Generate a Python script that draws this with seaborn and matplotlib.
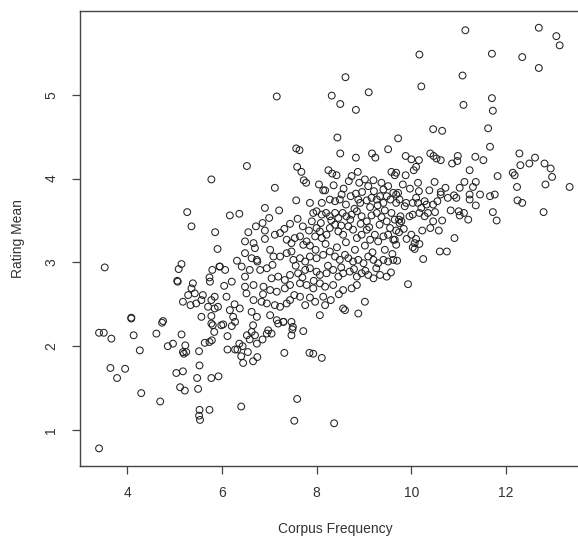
import numpy as np
import pandas as pd
import seaborn as sns
import matplotlib
matplotlib.use('Agg')
import matplotlib.pyplot as plt

# corpus frequency (x) and rating mean (y)
freq = [
    # upper part
    8.61, 7.16, 8.32, 8.50, 8.83, 9.10, 8.44, 7.57, 7.64, 8.50, 8.83, 9.17, 9.24, 9.51, 6.53, 7.59,
    11.14, 12.69, 13.06, 13.13, 10.17, 11.70, 12.34, 12.69, 11.08, 10.21, 11.70, 11.10, 11.72,
    10.46, 10.65, 11.62, 9.72, 11.66, 9.88, 10.00, 10.16, 10.40, 10.47, 10.53, 10.62, 10.98,
    10.97, 10.86, 11.35, 11.52, 12.28, 12.61, 12.49, 12.30, 12.81,
    # right side
    9.68, 9.88, 10.10, 10.05, 11.23, 11.82, 12.14, 12.18, 12.94, 12.97, 12.83, 13.34, 12.23,
    12.24, 12.34, 12.79, 11.72, 11.80, 11.66, 11.76, 11.45, 11.23, 11.23, 11.36, 11.12, 11.02,
    11.30, 11.36, 11.20, 11.00, 11.11, 11.02, 10.95, 10.90, 10.77, 10.72, 10.62, 10.62, 10.49,
    10.91, 10.60, 10.75, 10.25, 9.70, 9.93, 10.58, 10.23, 10.46, 10.65, 10.50, 10.46, 10.00,
    10.10, 10.17, 10.03, 10.07, 9.68, 9.68, 9.84, 9.75, 9.65, 9.74, 9.77, 9.68, 9.72, 9.75, 9.68,
    9.89, 9.86, 10.03, 10.14, 10.10, 10.16, 10.14, 10.28, 10.32, 10.21, 10.35, 10.28, 10.17,
    10.03, 9.96, 9.79, 10.07, 9.65,
    # left side
    5.78, 5.27, 5.36, 5.86, 5.91, 3.53, 5.15, 5.09, 5.06, 5.07, 5.80, 5.74, 5.75, 5.95, 5.39,
    5.36, 5.29, 5.43, 5.18, 5.34, 5.46, 5.57, 5.60, 5.85, 5.78, 5.71, 5.85, 5.92, 5.57, 5.78,
    4.09, 4.09, 4.76, 4.74,
    3.41, 3.51, 3.67, 4.14, 4.62, 4.27, 4.86, 4.97, 5.15, 5.23, 5.18, 5.25, 5.20, 5.52, 5.64,
    5.74, 5.79, 5.84, 5.81, 5.78, 5.99, 3.65, 3.96, 3.79, 5.04, 5.18, 5.53, 5.48, 5.78, 5.93,
    5.12, 5.22, 5.50, 4.30, 4.70, 5.53, 5.52, 5.54, 5.74, 3.41,
    # lower middle
    6.41, 7.59, 7.53, 8.37, 7.32, 7.85, 7.93, 8.11, 7.72, 7.49, 7.47, 7.50, 6.12, 6.12, 6.28,
    6.33, 6.41, 6.45, 6.55, 6.66, 6.75, 6.03, 6.21, 6.28, 6.66, 6.63, 6.53, 6.70, 6.59, 6.74,
    6.86, 6.95, 6.98, 7.05, 7.19, 7.30, 6.37, 6.44,
    # core
    7.68, 7.73, 7.78, 8.25, 8.33, 8.42, 8.74, 8.87, 8.90, 9.02, 9.09, 9.20, 9.37, 9.41, 9.51,
    9.58, 9.65, 7.12, 7.57, 7.86, 8.11, 8.14, 8.28, 8.39, 8.49, 8.53, 8.62, 8.72, 8.83, 8.88,
    8.92, 9.06, 9.16, 9.21, 9.27, 9.34, 9.41, 9.48, 9.56, 9.62, 6.17, 6.37, 6.91, 7.21, 7.00,
    6.72, 6.86, 6.91, 7.93, 8.00, 8.11, 8.20, 8.28, 8.39, 8.46, 8.55, 8.63, 8.74, 8.85, 8.95,
    9.06, 9.16, 9.27, 9.37, 9.48, 9.58, 7.90, 8.00, 8.07, 7.97, 8.11, 8.21, 8.28, 8.39, 8.46,
    8.56, 8.67, 8.77, 8.85, 8.95, 9.06, 9.13, 9.23, 9.30, 9.41, 9.51, 9.62, 7.12, 7.23, 7.37,
    7.47, 7.54, 7.65, 7.72, 7.79, 7.86, 6.49, 6.67, 6.70, 6.49, 6.63, 6.74, 7.02, 7.09, 7.23,
    7.37, 7.47, 7.51, 7.65, 7.76, 7.86, 8.00, 8.14, 8.28, 8.39, 8.49, 8.60, 8.67, 8.77, 8.88,
    8.99, 9.09, 9.20, 9.30, 9.41, 9.51, 9.62, 6.75, 5.96, 6.07, 6.42, 6.59, 6.81, 6.95, 7.05,
    7.19, 7.33, 7.44, 7.61, 7.76, 7.86, 8.00, 8.07, 8.21, 8.35, 8.46, 8.56, 8.70, 8.85, 8.95,
    9.09, 9.20, 9.34, 9.48, 6.49, 6.67, 6.49, 6.21, 6.52, 6.10, 6.88, 7.02, 7.16, 7.33, 7.44,
    7.65, 7.79, 7.93, 8.07, 8.18, 8.35, 8.56, 8.74, 8.85, 6.67, 6.84, 6.95, 7.12, 7.23, 7.37,
    7.44, 7.65, 7.76, 7.97, 8.14, 8.18, 8.56, 6.17, 6.38, 6.24, 6.63, 6.74, 7.02, 7.16, 7.30,
    7.47, 8.07, 8.60, 9.02, 8.88,
    # overlapping circles in the dense middle
    8.05, 8.18, 8.36, 8.57, 8.68, 8.80, 8.96, 9.13, 9.29, 9.44,
    8.09, 8.31, 8.52, 8.71, 8.93, 9.11, 9.33, 9.55, 9.74, 9.90,
    7.84, 7.98, 8.19, 8.43, 8.62, 8.81, 9.02, 9.18, 9.44, 9.60,
    7.32, 7.44, 7.60, 7.71, 7.56, 7.70, 7.94, 8.24, 8.52, 8.79,
    9.03, 9.26, 9.57, 7.07, 6.91, 6.56, 6.32, 6.05, 6.27, 6.87,
    7.53, 7.86, 8.30, 8.47, 9.82, 9.97, 10.38, 10.55, 10.83, 10.40,
]
rating = [
    5.21, 4.98, 4.99, 4.89, 4.82, 5.03, 4.49, 4.36, 4.34, 4.30, 4.25, 4.30, 4.25, 4.35, 4.15, 4.14,
    5.77, 5.80, 5.70, 5.59, 5.48, 5.49, 5.45, 5.32, 5.23, 5.10, 4.96, 4.88, 4.81,
    4.59, 4.57, 4.60, 4.48, 4.38, 4.27, 4.23, 4.22, 4.30, 4.27, 4.24, 4.22, 4.27,
    4.21, 4.18, 4.26, 4.22, 4.30, 4.25, 4.18, 4.16, 4.18,
    4.07, 4.04, 4.14, 4.10, 4.10, 4.03, 4.07, 4.04, 4.12, 4.02, 3.93, 3.90, 3.90,
    3.74, 3.71, 3.60, 3.60, 3.50, 3.79, 3.81, 3.81, 3.81, 3.75, 3.68, 3.96, 3.89,
    3.90, 3.96, 3.51, 3.61, 3.59, 3.56, 3.77, 3.80, 3.77, 3.89, 3.81, 3.84, 3.96,
    3.29, 3.13, 3.13, 3.04, 3.02, 2.74, 3.38, 3.38, 3.49, 3.50, 3.60, 3.69, 3.33,
    3.28, 3.22, 3.18, 3.16, 3.21, 3.38, 3.40, 3.47, 3.51, 3.51, 3.55, 3.81, 3.83, 3.75, 3.71,
    3.71, 3.67, 3.71, 3.71, 3.77, 3.85, 3.95, 3.73, 3.69, 3.65, 3.59, 3.55, 3.59,
    3.57, 3.55, 3.49, 3.23, 3.27,
    3.99, 3.60, 3.43, 3.36, 3.16, 2.94, 2.98, 2.92, 2.78, 2.77, 2.91, 2.82, 2.77, 2.95, 2.75,
    2.69, 2.61, 2.63, 2.53, 2.49, 2.51, 2.55, 2.61, 2.59, 2.55, 2.47, 2.45, 2.47, 2.35, 2.36,
    2.34, 2.33, 2.30, 2.28,
    2.16, 2.16, 2.09, 2.13, 2.15, 1.95, 2.00, 2.03, 2.14, 2.01, 1.93, 1.93, 1.91, 1.94, 2.04,
    2.05, 2.07, 2.17, 2.25, 2.27, 2.25, 1.74, 1.73, 1.62, 1.68, 1.70, 1.77, 1.62, 1.62, 1.64,
    1.51, 1.47, 1.49, 1.44, 1.34, 1.24, 1.17, 1.12, 1.24, 0.78,
    1.28, 1.37, 1.11, 1.08, 1.92, 1.92, 1.91, 1.86, 2.18, 2.20, 2.13, 2.23, 2.12, 1.96, 1.96,
    1.96, 1.88, 1.80, 1.93, 1.82, 1.87, 2.26, 2.24, 2.29, 2.25, 2.17, 2.13, 2.13, 2.08, 2.03,
    2.08, 2.15, 2.19, 2.15, 2.27, 2.29, 2.03, 2.00,
    4.08, 3.98, 3.95, 4.10, 4.06, 4.04, 4.03, 4.08, 3.95, 3.99, 3.91, 3.98, 3.95, 3.87, 3.91,
    4.08, 4.04, 3.89, 3.74, 3.71, 3.71, 3.86, 3.75, 3.73, 3.75, 3.81, 3.69, 3.79, 3.82, 3.75,
    3.71, 3.74, 3.77, 3.85, 3.75, 3.79, 3.71, 3.79, 3.75, 3.83, 3.56, 3.58, 3.65, 3.62, 3.53,
    3.43, 3.47, 3.38, 3.59, 3.61, 3.57, 3.59, 3.55, 3.59, 3.53, 3.59, 3.55, 3.57, 3.61, 3.55,
    3.49, 3.56, 3.59, 3.54, 3.49, 3.59, 3.49, 3.41, 3.37, 3.31, 3.29, 3.33, 3.41, 3.45, 3.37,
    3.33, 3.43, 3.39, 3.29, 3.33, 3.39, 3.27, 3.33, 3.25, 3.31, 3.33, 3.27, 3.33, 3.35, 3.27,
    3.23, 3.29, 3.31, 3.21, 3.25, 3.20, 3.25, 3.23, 3.17, 3.11, 3.05, 3.03, 3.15, 3.07, 3.07,
    3.11, 3.13, 3.03, 3.05, 3.01, 3.07, 3.05, 3.09, 3.13, 3.07, 3.03, 3.09, 3.05, 3.01, 3.03,
    2.99, 3.07, 3.03, 2.99, 3.03, 3.01, 3.03, 3.01, 2.95, 2.91, 2.95, 2.91, 2.91, 2.93, 2.81,
    2.83, 2.79, 2.85, 2.87, 2.91, 2.93, 2.89, 2.85, 2.87, 2.91, 2.83, 2.87, 2.89, 2.83, 2.87,
    2.85, 2.81, 2.85, 2.83, 2.83, 2.73, 2.71, 2.77, 2.63, 2.59, 2.71, 2.67, 2.65, 2.69, 2.73,
    2.75, 2.73, 2.69, 2.75, 2.71, 2.73, 2.67, 2.69, 2.73, 2.55, 2.53, 2.51, 2.49, 2.47, 2.51,
    2.55, 2.59, 2.49, 2.53, 2.59, 2.49, 2.45, 2.43, 2.45, 2.35, 2.41, 2.35, 2.37, 2.31, 2.29,
    2.29, 2.37, 2.43, 2.53, 2.39,
    3.93, 3.86, 3.92, 3.88, 3.97, 3.64, 3.84, 3.66, 3.68, 3.62,
    3.47, 3.50, 3.44, 3.51, 3.46, 3.42, 3.45, 3.41, 3.36, 3.28,
    3.38, 3.15, 3.22, 3.18, 3.24, 3.15, 3.20, 3.12, 3.15, 3.10,
    3.40, 3.46, 3.52, 3.43, 2.96, 2.82, 2.78, 2.96, 2.94, 2.92,
    2.90, 2.93, 2.88, 2.97, 3.28, 3.36, 3.02, 2.72, 2.50, 2.62,
    2.61, 2.58, 2.55, 2.62, 3.93, 3.88, 3.86, 3.73, 3.62, 3.41,
]

df = pd.DataFrame({'Corpus Frequency': freq, 'Rating Mean': rating})

sns.set_style('white')
plt.rcParams['font.family'] = ['Liberation Sans', 'DejaVu Sans']

fig = plt.figure(figsize=(5.78, 5.38), dpi=100)
# the plot region runs a bit past the right edge of the picture (cropped)
ax = fig.add_axes([80/578, 72/538, 510/578, 455/538])

sns.scatterplot(data=df, x='Corpus Frequency', y='Rating Mean', ax=ax,
                marker='o', s=24, facecolor='none', edgecolor='#222222',
                linewidth=0.75)

ax.set_xlim(3.008, 13.77)
ax.set_ylim(0.57, 6.0)
ax.set_xticks([4, 6, 8, 10, 12])
ax.set_yticks([1, 2, 3, 4, 5])

for s in ax.spines.values():
    s.set_visible(True)
    s.set_color('#444444')
    s.set_linewidth(1.0)

ax.tick_params(axis='both', direction='out', length=5.5, width=0.9, color='#444444',
               labelsize=10, labelcolor='#333333', bottom=True, left=True)
ax.tick_params(axis='x', pad=9)
ax.tick_params(axis='y', pad=10)
plt.setp(ax.get_yticklabels(), rotation=90, va='center')

ax.set_xlabel('Corpus Frequency', fontsize=10, color='#333333', labelpad=16)
ax.set_ylabel('Rating Mean', fontsize=10, color='#333333', labelpad=14)

fig.savefig('out.png', dpi=100)
